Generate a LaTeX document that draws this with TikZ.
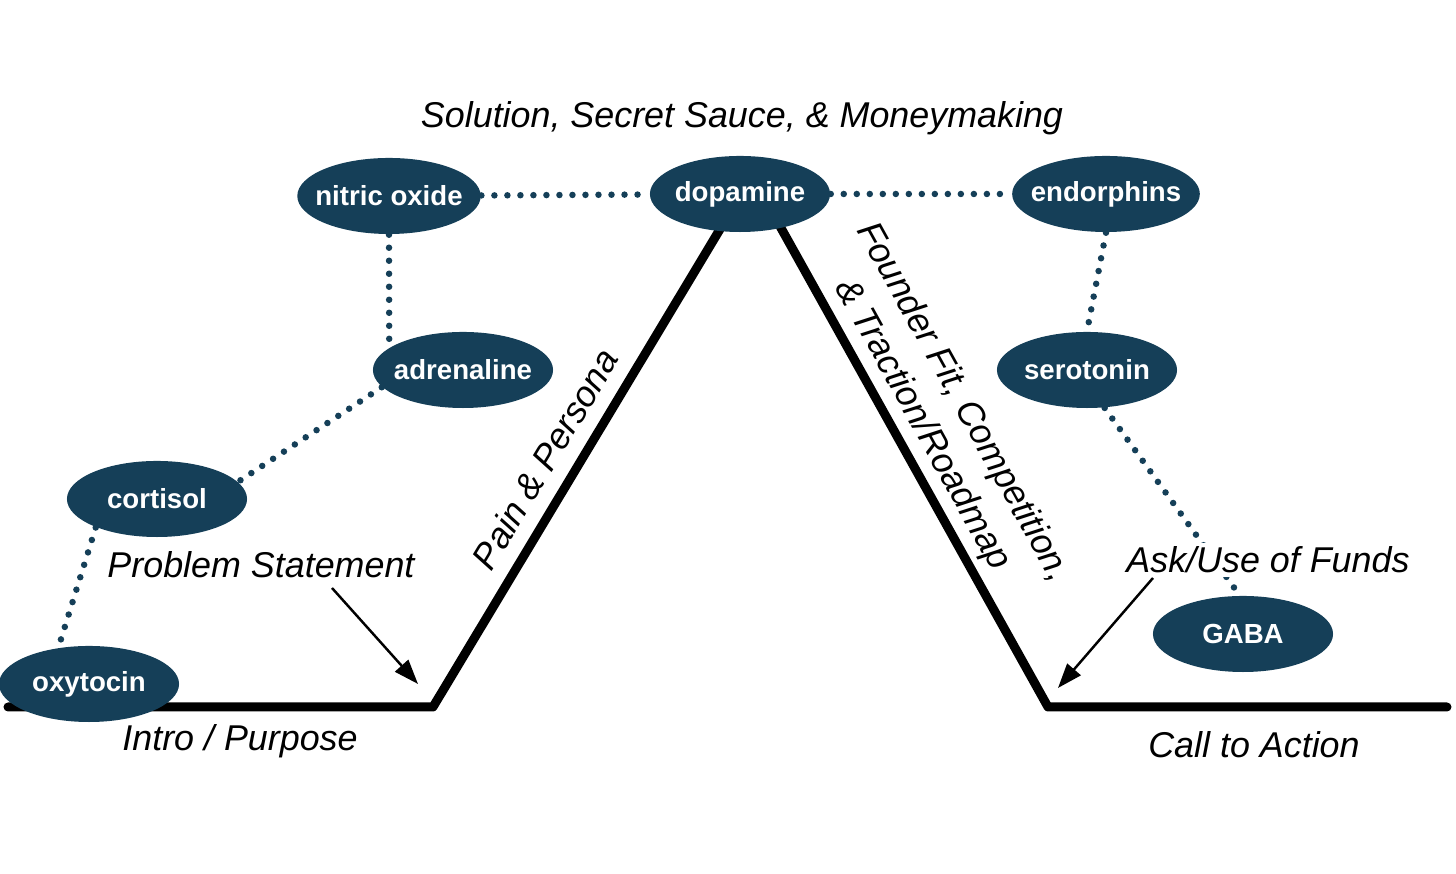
\documentclass[tikz,border=0pt]{standalone}
\usepackage{fontspec}
\setmainfont{Liberation Sans}
\usetikzlibrary{shapes.geometric,arrows.meta}
\definecolor{hormone}{HTML}{153F58}

\begin{document}
\begin{tikzpicture}[x=0.01cm, y=-0.01cm,
    chem/.style={ellipse, fill=hormone, text=white, font=\fontsize{7.85}{9}\selectfont\bfseries, minimum width=1.8cm, minimum height=0.76cm, inner xsep=-2.5pt, inner ysep=0pt},
    stage/.style={font=\fontsize{10.2}{13.2}\selectfont\itshape, inner sep=1pt},
    link/.style={hormone, line width=1.85pt, line cap=round, dash pattern=on 0pt off 3.7pt},
    pointer/.style={line width=0.7pt, -{Triangle[length=7pt,width=5pt]}}]
    \useasboundingbox (0,0) rectangle (1456,874);

    % Pitch curve
    \coordinate (start) at (8,707);
    \coordinate (valleyL) at (433,707);
    \coordinate (peak) at (752,176);
    \coordinate (valleyR) at (1048,707);
    \coordinate (finish) at (1447,707);
    \draw[line width=2.56pt, line cap=round, line join=round] (start) -- (valleyL) -- (peak) -- (valleyR) -- (finish);

    % Stage labels
    \node[stage] (solution) at (742,118) {Solution, Secret Sauce, \& Moneymaking};
    \node[stage] (problem) at (261,565) {Problem Statement};
    \node[stage] (intro) at (240,741) {Intro / Purpose};
    \node[stage] (cta) at (1254,745) {Call to Action};
    \node[stage, rotate=59] (pain) at (545,459) {Pain \& Persona};
    \node[stage, rotate=-61, align=center] (founder) at (942,414) {Founder Fit, Competition,\\\& Traction/Roadmap};

    % Hormones
    \node[chem] (nitric) at (389,196) {nitric oxide};
    \node[chem] (dopamine) at (740,194) {dopamine};
    \node[chem] (endorphins) at (1106,194) {endorphins};
    \node[chem] (adrenaline) at (463,370) {adrenaline};
    \node[chem] (serotonin) at (1087,370) {serotonin};
    \node[chem] (cortisol) at (157,499) {cortisol};
    \node[chem] (oxytocin) at (89,684) {oxytocin};
    \node[chem] (gaba) at (1243,634) {GABA};

    % Dotted links
    \draw[link] (nitric) -- (dopamine);
    \draw[link] (dopamine) -- (endorphins);
    \draw[link] (nitric.south) -- (adrenaline.163);
    \draw[link] (adrenaline.192) -- (cortisol.12);
    \draw[link] (cortisol.205) -- (oxytocin.130);
    \draw[link] (endorphins.south) -- (serotonin.north);
    \draw[link] (serotonin.-65) -- (gaba.95);

    \node[stage, fill=white] (ask) at (1268,560) {Ask/Use of Funds};

    % Arrows
    \coordinate (ptail) at (332,588);
    \coordinate (phead) at (418,684);
    \coordinate (atail) at (1153,578);
    \coordinate (ahead) at (1058,688);
    \draw[pointer] (ptail) -- (phead);
    \draw[pointer] (atail) -- (ahead);
\end{tikzpicture}
\end{document}
